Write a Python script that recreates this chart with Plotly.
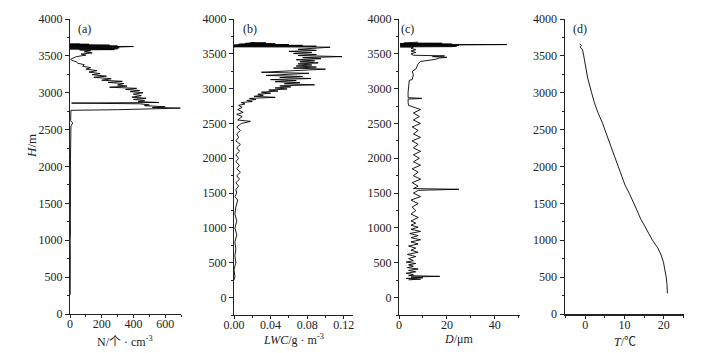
import plotly.graph_objects as go

# ---------------- data ----------------
# (a) number concentration N (cm^-3) vs height H (m)
a_H = [260, 400, 600, 800, 1000, 1100, 1300, 1500, 1700, 1900, 2100, 2300, 2450, 2550, 2590, 2620, 2700, 2762,
       2770, 2792, 2800, 2810, 2825, 2835, 2850, 2860, 2868, 2880, 2895, 2910, 2925, 2940, 2960, 2980, 3000, 3015,
       3030, 3045, 3060, 3075, 3090, 3105, 3125, 3140, 3155, 3170, 3190, 3210, 3225, 3245, 3260, 3280, 3300, 3320,
       3340, 3360, 3380, 3400, 3420, 3440, 3455, 3470, 3490, 3510, 3525, 3540, 3555, 3570, 3580,
       3582, 3585, 3588, 3591, 3594, 3597, 3600, 3603, 3606, 3609, 3612, 3615, 3618, 3621, 3624, 3627, 3630, 3633,
       3636, 3639, 3642, 3645, 3648, 3651, 3654, 3657, 3660, 3663]
a_N = [1, 2, 1, 2, 1, 3, 2, 4, 3, 4, 3, 4, 5, 6, 17, 4, 5, 6,
       300, 696, 520, 600, 470, 500, 440, 10, 560, 430, 470, 400, 480, 390, 450, 400, 460, 380,
       440, 350, 420, 250, 360, 300, 340, 240, 330, 200, 260, 150, 230, 140, 190, 120, 170, 100,
       130, 80, 90, 50, 40, 10, 5, 20, 40, 100, 70, 140, 90, 130, 60,
       60, 280, 10, 250, 0, 300, 20, 260, 0, 310, 10, 290, 0, 320, 5, 400, 0, 300,
       10, 280, 0, 250, 5, 200, 0, 120, 0, 60]

# (b) liquid water content LWC (g m^-3) vs height H (m)
b_H = [250, 300, 400, 500, 600, 700, 800, 900, 1000, 1100, 1200, 1300, 1400, 1450, 1500, 1550, 1600, 1650, 1700,
       1750, 1800, 1850, 1900, 1950, 2000, 2050, 2100, 2150, 2200, 2250, 2300, 2350, 2400, 2450, 2500, 2530, 2550,
       2600, 2630, 2660, 2700, 2730, 2760, 2780, 2800, 2815, 2830, 2845, 2860, 2875, 2890, 2905, 2920, 2935, 2950,
       2965, 2980, 2995, 3010, 3025, 3040, 3055, 3070, 3085, 3100, 3115, 3130, 3145, 3160, 3175, 3190, 3205, 3220,
       3235, 3250, 3265, 3280, 3295, 3310, 3325, 3340, 3355, 3370, 3385, 3400, 3415, 3430, 3445, 3460, 3475, 3490,
       3505, 3520, 3535, 3550, 3565, 3580, 3595, 3598,
       3600, 3603, 3606, 3609, 3612, 3615, 3618, 3621, 3624, 3627, 3630, 3633, 3636, 3639, 3642, 3645, 3648, 3651,
       3654, 3657, 3660, 3662, 3664]
b_LWC = [0.000, 0.001, 0.000, 0.002, 0.001, 0.002, 0.001, 0.003, 0.001, 0.003, 0.001, 0.002, 0.004, 0.001, 0.003,
         0.002, 0.005, 0.002, 0.006, 0.003, 0.007, 0.003, 0.006, 0.002, 0.005, 0.002, 0.006, 0.003, 0.007, 0.002,
         0.005, 0.003, 0.007, 0.003, 0.008, 0.018, 0.004, 0.009, 0.003, 0.010, 0.004, 0.009, 0.005, 0.012, 0.008,
         0.020, 0.014, 0.024, 0.017, 0.045, 0.022, 0.032, 0.026, 0.040, 0.030, 0.048, 0.038, 0.058, 0.045, 0.062,
         0.050, 0.088, 0.055, 0.072, 0.045, 0.068, 0.040, 0.084, 0.050, 0.075, 0.035, 0.070, 0.082, 0.030, 0.060,
         0.075, 0.100, 0.065, 0.090, 0.068, 0.085, 0.070, 0.092, 0.072, 0.088, 0.068, 0.095, 0.075, 0.118, 0.070,
         0.090, 0.065, 0.085, 0.060, 0.090, 0.070, 0.095, 0.105, 0.090,
         0.000, 0.085, 0.002, 0.090, 0.000, 0.080, 0.003, 0.075, 0.000, 0.068, 0.002, 0.060, 0.005, 0.050, 0.008,
         0.045, 0.012, 0.040, 0.015, 0.035, 0.018, 0.030, 0.022]

# (c) mean diameter D (um) vs height H (m)
c_H = [255, 265, 275, 285, 295, 305, 315, 330, 350, 370, 390, 410, 430, 450, 470, 490, 510, 530, 560, 590, 620,
       650, 680, 710, 740, 770, 800, 830, 860, 890, 920, 950, 980, 1010, 1040, 1070, 1100, 1150, 1200, 1250, 1300,
       1350, 1400, 1450, 1500, 1540, 1555, 1565, 1600, 1650, 1700, 1750, 1800, 1850, 1900, 1950, 2000, 2050, 2100,
       2150, 2200, 2250, 2300, 2350, 2400, 2450, 2500, 2550, 2600, 2650, 2700, 2740, 2760, 2800, 2850, 2860, 2870,
       2950, 3050, 3120, 3130, 3200, 3250, 3280, 3320, 3360, 3390, 3400, 3420, 3440, 3450, 3460, 3470, 3480, 3500,
       3520, 3540, 3560, 3580, 3598,
       3600, 3603, 3606, 3609, 3612, 3615, 3618, 3621, 3624, 3627, 3630, 3633, 3636, 3639, 3642, 3645, 3648, 3651,
       3654, 3657, 3660, 3663, 3668]
c_D = [4, 9, 3, 10, 5, 17, 4, 6, 3, 7, 4, 8, 3.5, 6, 4, 7, 3, 6, 4, 7, 3.5,
       8, 5, 7, 4, 8, 5, 9, 5, 8, 4.5, 9, 5, 8, 5, 7, 5, 8, 5, 7, 5.5,
       8, 5, 9, 6, 8, 25, 6, 8, 5.5, 9, 6, 8, 5.5, 9, 6, 8.5, 6, 9,
       6, 8, 5.5, 9, 6, 8, 5.5, 9, 6, 8.5, 6, 9, 5, 4, 3.8, 3.8, 9.5, 3.8,
       3.8, 4, 4.3, 5.5, 6, 5.5, 7, 7.5, 8, 9, 12, 15, 17, 20, 14, 19, 6, 5,
       7, 5, 7, 5, 6,
       0.5, 22, 1, 24, 0.5, 23, 1, 25, 0.5, 24, 1, 45, 0.5, 22, 1, 20, 0.5, 18,
       2, 12, 3, 6, 8]

# (d) temperature T (deg C) vs height H (m)
d_H = [3665, 3640, 3620, 3580, 3500, 3400, 3354, 3200, 3000, 2850, 2720, 2600, 2450, 2300, 2150, 2000, 1900, 1750,
       1636, 1530, 1455, 1400, 1300, 1200, 1100, 1000, 900, 800, 700, 600, 500, 400, 280]
d_T = [-1.4, -1.0, -1.3, -0.7, -0.4, -0.1, 0.0, 0.6, 1.6, 2.4, 3.3, 4.3, 5.3, 6.3, 7.4, 8.4, 9.0, 10.1,
       11.2, 12.1, 12.9, 13.2, 14.0, 15.0, 16.0, 17.1, 18.4, 19.3, 19.9, 20.3, 20.6, 20.8, 20.9]

# tick settings
h_ticks = [0, 500, 1000, 1500, 2000, 2500, 3000, 3500, 4000]
a_ticks = [0, 200, 400, 600]
b_ticks = [0.00, 0.04, 0.08, 0.12]
c_ticks = [0, 20, 40]
d_ticks = [0, 10, 20]
panel_labels = ["(a)", "(b)", "(c)", "(d)"]
x_titles = ["N/个 · cm<sup>-3</sup>", "<i>LWC</i>/g · m<sup>-3</sup>", "<i>D</i>/μm", "<i>T</i>/℃"]
y_title = "<i>H</i>/m"

# ---------------- layout helpers ----------------
W, H = 715, 353
def fx(p):
    return p / W
def fy(p):
    return 1 - p / H

FONT = "Liberation Serif, Noto Sans CJK SC, serif"
AX = "#222"

fig = go.Figure()
series = [(a_N, a_H), (b_LWC, b_H), (c_D, c_H), (d_T, d_H)]
for i, (xv, yv) in enumerate(series):
    sfx = "" if i == 0 else str(i + 1)
    fig.add_trace(go.Scatter(x=xv, y=yv, mode="lines", xaxis="x" + sfx, yaxis="y" + sfx,
                             line=dict(color="black", width=0.9), hoverinfo="skip"))

panels = [
    dict(xd=(70, 181), yd=(314, 19), xr=[0, 700], yr=[0, 4000], xt=a_ticks, xminor=100, fmt=None),
    dict(xd=(234, 353), yd=(315, 19), xr=[0, 0.13], yr=[-250, 4000], xt=b_ticks, xminor=0.02, fmt=".2f"),
    dict(xd=(399, 520), yd=(315, 19), xr=[0, 50.5], yr=[-250, 4000], xt=c_ticks, xminor=10, fmt=None),
    dict(xd=(564.5, 683.5), yd=(314, 19), xr=[-5.3, 25], yr=[0, 4000], xt=d_ticks, xminor=5, fmt=None),
]

layout = dict(width=W, height=H, margin=dict(l=0, r=0, t=0, b=0, pad=0),
              paper_bgcolor="white", plot_bgcolor="white", showlegend=False,
              font=dict(family=FONT, size=12, color="#222"))

for i, p in enumerate(panels):
    sfx = "" if i == 0 else str(i + 1)
    xa = dict(domain=[fx(p["xd"][0]), fx(p["xd"][1])], range=p["xr"], anchor="y" + sfx, automargin=False,
              tickmode="array", tickvals=p["xt"], ticks="outside", ticklen=3, tickwidth=1, tickcolor=AX,
              showline=True, linecolor=AX, linewidth=2 if i == 3 else 1, showgrid=False, zeroline=False,
              ticklabelstandoff=-4,
              tickfont=dict(size=12, family=FONT, color="#222"),
              minor=dict(ticks="outside", ticklen=2, tickcolor=AX, dtick=p["xminor"], tick0=0, showgrid=False))
    if p["fmt"]:
        xa["tickformat"] = p["fmt"]
    ya = dict(domain=[fy(p["yd"][0]), fy(p["yd"][1])], range=p["yr"], anchor="x" + sfx, automargin=False,
              tickmode="array", tickvals=h_ticks, ticks="outside", ticklen=4, tickwidth=1, tickcolor=AX,
              showline=True, linecolor=AX, linewidth=1, showgrid=False, zeroline=False,
              tickfont=dict(size=12, family=FONT, color="#222"),
              minor=dict(ticks="outside", ticklen=2, tickcolor=AX, dtick=250, tick0=0, showgrid=False))
    layout["xaxis" + sfx] = xa
    layout["yaxis" + sfx] = ya

fig.update_layout(**layout)

# panel labels and axis titles
label_x = [84, 250, 408, 580]
title_x = [125, 293, 458, 625]
title_y = [341, 339, 339, 342]
for i in range(4):
    fig.add_annotation(x=fx(label_x[i]), y=fy(29), xref="paper", yref="paper", text=panel_labels[i],
                       showarrow=False, xanchor="center", yanchor="middle",
                       font=dict(size=12, family=FONT, color="#222"))
    fig.add_annotation(x=fx(title_x[i]), y=fy(title_y[i]), xref="paper", yref="paper", text=x_titles[i],
                       showarrow=False, xanchor="center", yanchor="middle",
                       font=dict(size=12, family=FONT, color="#222"))
fig.add_annotation(x=fx(31), y=fy(146), xref="paper", yref="paper", text=y_title, textangle=-90,
                   showarrow=False, xanchor="center", yanchor="middle",
                   font=dict(size=13, family=FONT, color="#222"))

fig.write_html("out.html", config={"displayModeBar": False},
               post_script="document.body.style.margin='0px';document.body.style.padding='0px';")
